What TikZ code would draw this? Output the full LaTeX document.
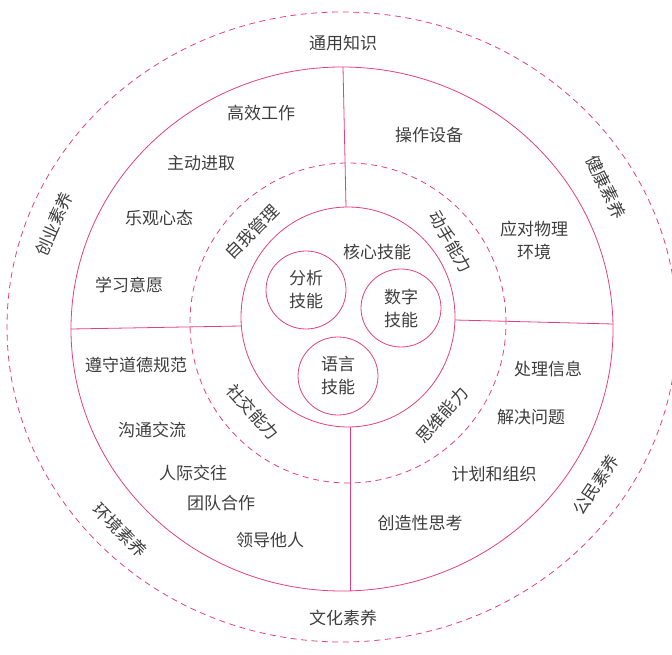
\documentclass[tikz,border=0pt]{standalone}
\usepackage{fontspec}
\setmainfont{Noto Sans CJK SC}
\usetikzlibrary{shapes.geometric}
\definecolor{rose}{RGB}{228,64,128}
\definecolor{ink}{RGB}{62,62,62}
\begin{document}
\begin{tikzpicture}[x=1pt, y=1pt,
  font=\fontsize{17}{23}\selectfont,
  ring/.style={draw=rose, line width=0.8pt},
  dashring/.style={draw=rose, line width=0.8pt, dash pattern=on 6pt off 4.5pt},
  skill/.style={draw=rose, line width=0.8pt, ellipse, inner sep=0pt, minimum width=80pt, minimum height=78pt, align=center, text=ink},
  lbl/.style={text=ink, align=center, inner sep=0pt}
]
  \useasboundingbox (0,0) rectangle (672,654);
  \draw[dashring] (342,327) ellipse [x radius=335, y radius=315];
  \draw[ring] (342,325) ellipse [x radius=271, y radius=262];
  \draw[dashring] (348,331) ellipse [x radius=158, y radius=160];
  \draw[ring] (348,337) ellipse [x radius=107, y radius=110];

  \coordinate (ringN) at (343,587);
  \coordinate (coreN) at (346,447);
  \coordinate (coreS) at (350,227);
  \coordinate (ringS) at (350,63);
  \coordinate (ringW) at (71,325);
  \coordinate (coreW) at (241,328);
  \coordinate (coreE) at (455,334);
  \coordinate (ringE) at (613,330);
  \draw[ring] (ringN) -- (coreN);
  \draw[ring] (coreS) -- (ringS);
  \draw[ring] (ringW) -- (coreW);
  \draw[ring] (coreE) -- (ringE);

  \node[skill] (fenxi) at (306,364) {分析\\技能};
  \node[skill] (shuzi) at (401,346) {数字\\技能};
  \node[skill] (yuyan) at (338,278) {语言\\技能};
  \node[lbl] (hexin) at (377,402) {核心技能};

  \node[lbl, rotate=45] (ziwo) at (252,422) {自我管理};
  \node[lbl, rotate=-60] (dongshou) at (451,412) {动手能力};
  \node[lbl, rotate=-48] (shejiao) at (253,242) {社交能力};
  \node[lbl, rotate=49] (siwei) at (442,239) {思维能力};

  \node[lbl] (gaoxiao) at (261,541) {高效工作};
  \node[lbl] (zhudong) at (201,491) {主动进取};
  \node[lbl] (leguan) at (159,436) {乐观心态};
  \node[lbl] (xuexi) at (129,369) {学习意愿};
  \node[lbl] (caozuo) at (429,519) {操作设备};
  \node[lbl] (yingdui) at (534,414) {应对物理\\环境};
  \node[lbl] (zunshou) at (136,289) {遵守道德规范};
  \node[lbl] (goutong) at (152,224) {沟通交流};
  \node[lbl] (renji) at (193,181) {人际交往};
  \node[lbl] (tuandui) at (221,151) {团队合作};
  \node[lbl] (lingdao) at (270,114) {领导他人};
  \node[lbl] (chuli) at (548,285) {处理信息};
  \node[lbl] (jiejue) at (531,237) {解决问题};
  \node[lbl] (jihua) at (494,180) {计划和组织};
  \node[lbl] (chuangzao) at (420,131) {创造性思考};

  \node[lbl] (tongyong) at (343,611) {通用知识};
  \node[lbl] (wenhua) at (343,36) {文化素养};
  \node[lbl, rotate=66] (chuangye) at (54,430) {创业素养};
  \node[lbl, rotate=-64] (jiankang) at (606,467) {健康素养};
  \node[lbl, rotate=-46] (huanjing) at (120,124) {环境素养};
  \node[lbl, rotate=56] (gongmin) at (596,169) {公民素养};
\end{tikzpicture}
\end{document}
